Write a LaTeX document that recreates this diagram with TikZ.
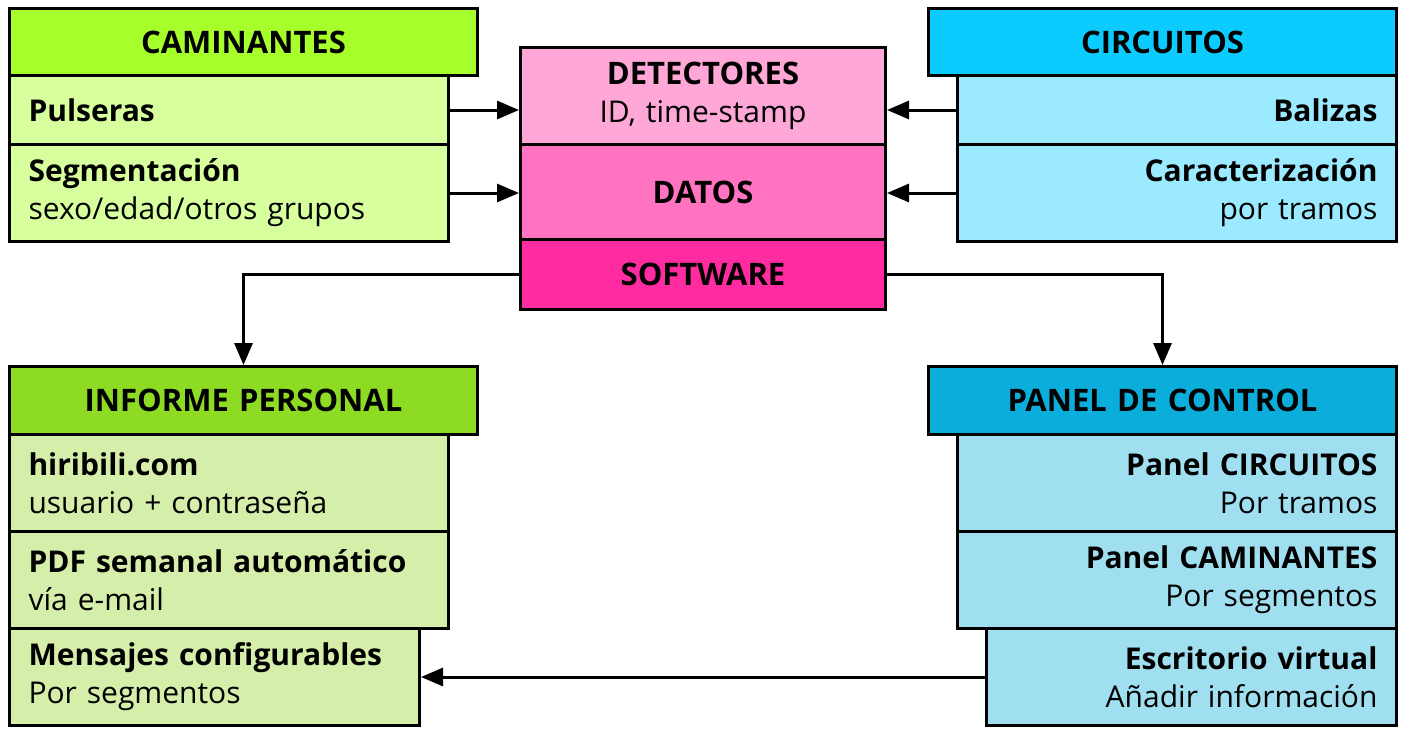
\documentclass[tikz,border=0pt]{standalone}
\usepackage{fontspec}
\setmainfont{Open Sans}
\usetikzlibrary{arrows.meta}
\definecolor{camH}{HTML}{A6FF2B}
\definecolor{camS}{HTML}{D8FF9E}
\definecolor{detC}{HTML}{FFA8D8}
\definecolor{datC}{HTML}{FF73C1}
\definecolor{swC}{HTML}{FF2BA0}
\definecolor{cirH}{HTML}{0CCBFF}
\definecolor{cirS}{HTML}{9CEAFF}
\definecolor{infH}{HTML}{8EDB23}
\definecolor{infS}{HTML}{D5EEAA}
\definecolor{panH}{HTML}{0BADDA}
\definecolor{panS}{HTML}{A0DFF0}
\tikzset{
  box/.style={draw=black, line width=3pt, anchor=north west, inner xsep=19pt, inner ysep=0pt,
    font=\fontsize{30}{38}\selectfont},
  hdr/.style={box, align=center, font=\fontsize{31}{38}\selectfont\bfseries},
  lbox/.style={box, align=left},
  rbox/.style={box, align=right},
  cbox/.style={box, align=center},
  conn/.style={line width=3pt, -{Triangle[length=22pt,width=18pt]}}
}
\newcommand{\bx}[7]{% style, name, x, y, w, h, text
  \node[#1, minimum width=#5pt, minimum height=#6pt, text width=#5pt-38pt] (#2) at (#3,#4) {#7};}
\begin{document}
\begin{tikzpicture}[x=1pt,y=-1pt]
\useasboundingbox (0,0) rectangle (1402,729);
% CAMINANTES
\bx{lbox,fill=camS}{seg}{8}{143}{439}{97}{\textbf{Segmentación}\\sexo/edad/otros grupos}
\bx{lbox,fill=camS}{pul}{8}{74}{439}{69}{\textbf{Pulseras}}
\bx{hdr,fill=camH}{cam}{8}{7}{468}{67}{CAMINANTES}
% CIRCUITOS
\bx{rbox,fill=cirS}{car}{956}{143}{439}{97}{\textbf{Caracterización}\\por tramos}
\bx{rbox,fill=cirS}{bal}{956}{74}{439}{69}{\textbf{Balizas}}
\bx{hdr,fill=cirH}{cir}{927}{7}{468}{67}{CIRCUITOS}
% center stack
\bx{hdr,fill=swC}{sw}{519}{238}{365}{70}{SOFTWARE}
\bx{hdr,fill=datC}{dat}{519}{143}{365}{95}{DATOS}
\bx{cbox,fill=detC}{det}{519}{46}{365}{97}{{\fontsize{31}{38}\selectfont\bfseries DETECTORES}\\ID, time-stamp}
% INFORME PERSONAL
\bx{lbox,fill=infS}{men}{8}{627}{410}{97}{\textbf{Mensajes configurables}\\Por segmentos}
\bx{lbox,fill=infS}{pdf}{8}{530}{439}{97}{\textbf{PDF semanal automático}\\vía e-mail}
\bx{lbox,fill=infS}{hir}{8}{433}{439}{97}{\textbf{hiribili.com}\\usuario + contraseña}
\bx{hdr,fill=infH}{inf}{8}{365}{468}{68}{INFORME PERSONAL}
% PANEL DE CONTROL
\bx{rbox,fill=panS}{esc}{985}{627}{410}{97}{\textbf{Escritorio virtual}\\Añadir información}
\bx{rbox,fill=panS}{pcam}{956}{530}{439}{97}{\textbf{Panel CAMINANTES}\\Por segmentos}
\bx{rbox,fill=panS}{pcir}{956}{433}{439}{97}{\textbf{Panel CIRCUITOS}\\Por tramos}
\bx{hdr,fill=panH}{pan}{927}{365}{468}{68}{PANEL DE CONTROL}
% connectors
\draw[conn] (pul.east) -- (pul.east -| det.west);
\draw[conn] (seg.east) -- (seg.east -| dat.west);
\draw[conn] (bal.west) -- (bal.west -| det.east);
\draw[conn] (car.west) -- (car.west -| dat.east);
\draw[conn] (sw.west) -| (inf.north);
\draw[conn] (sw.east) -| (pan.north);
\draw[conn] (esc.west) -- (esc.west -| men.east);
\end{tikzpicture}
\end{document}
